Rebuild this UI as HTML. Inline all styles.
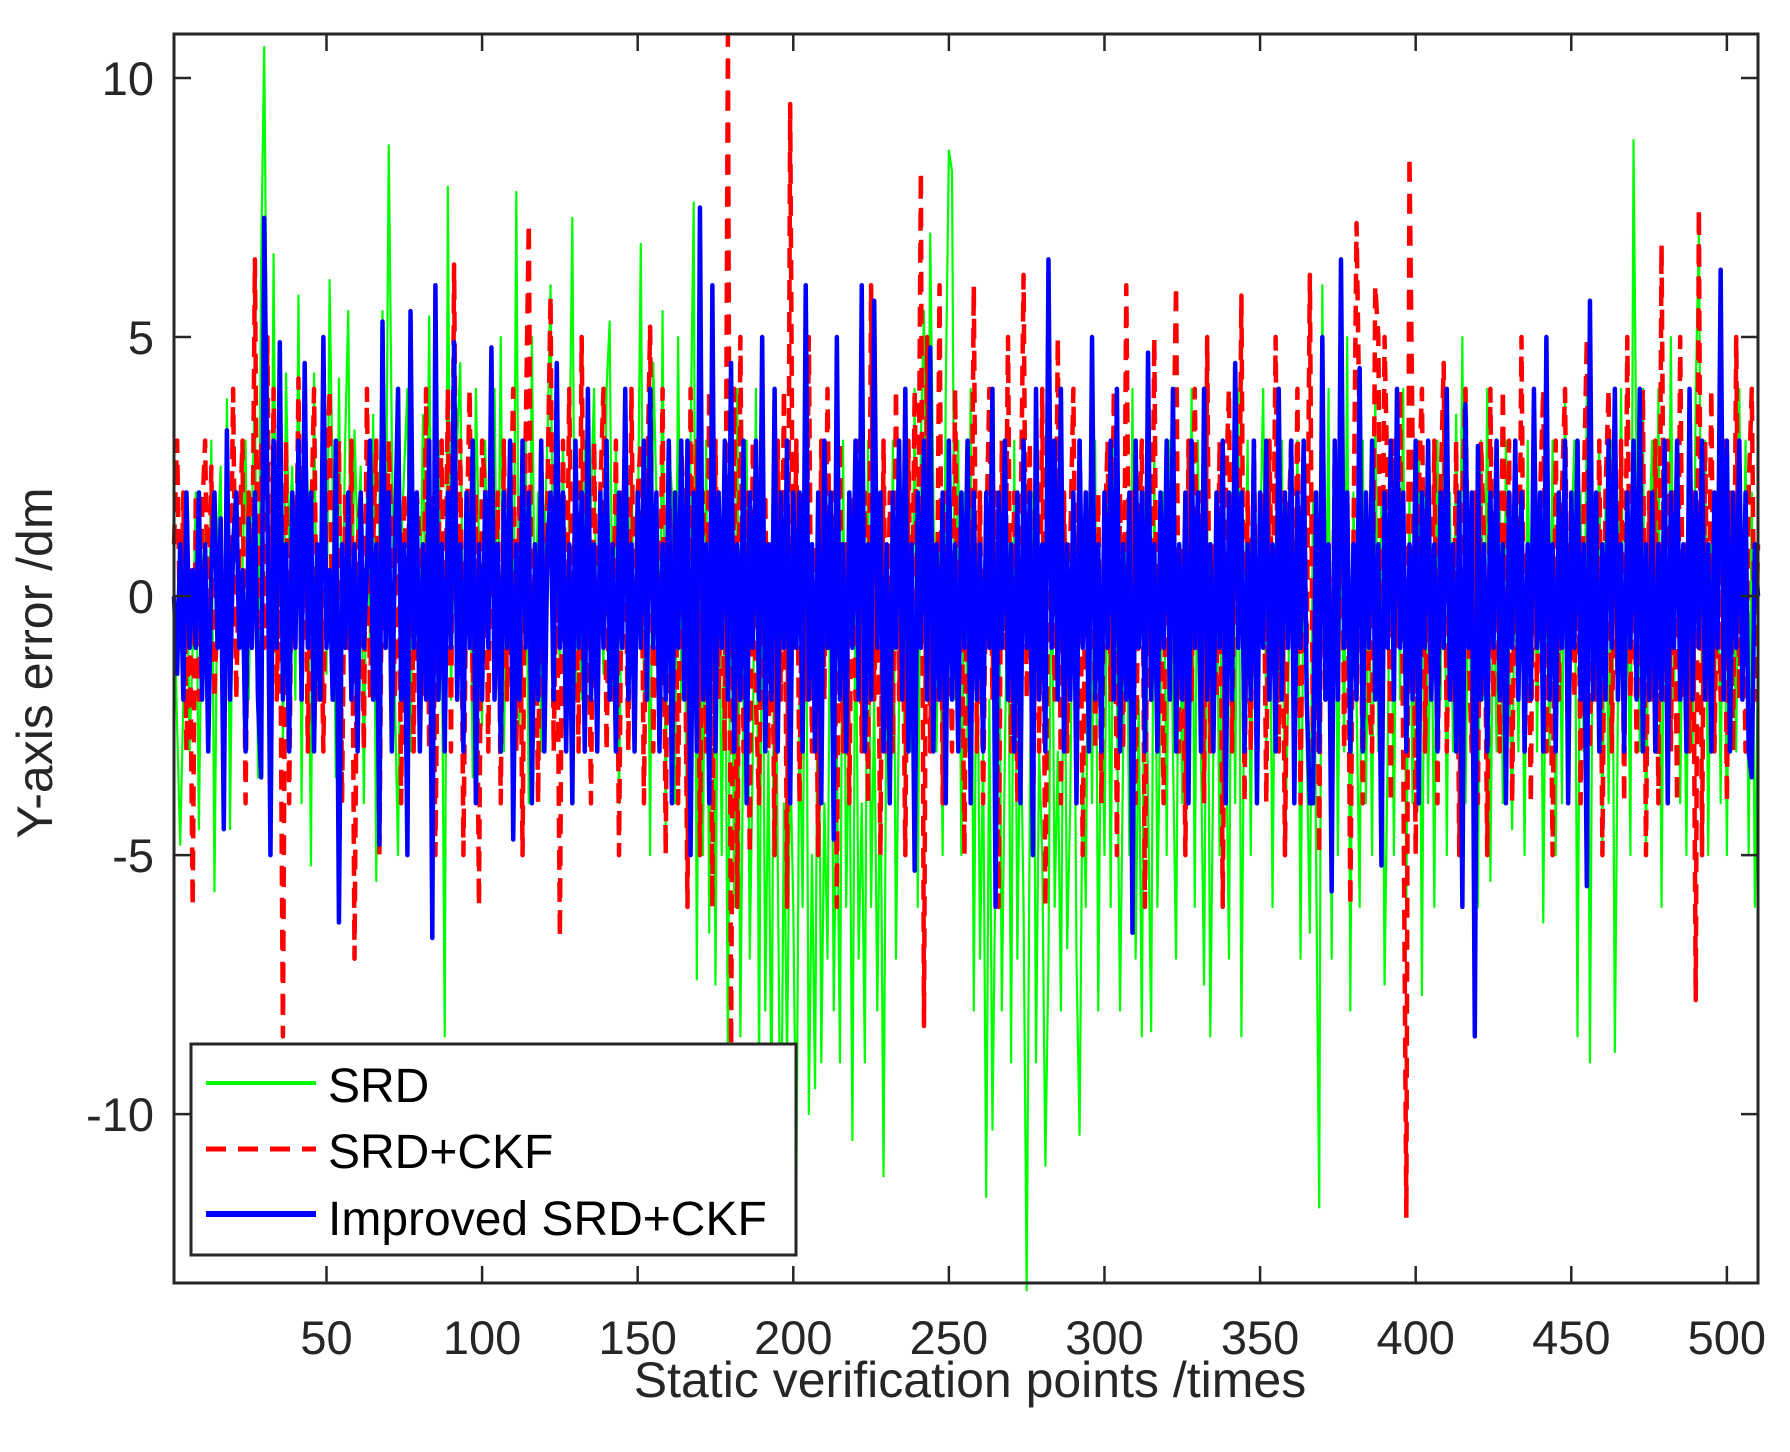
<!DOCTYPE html>
<html><head><meta charset="utf-8"><style>
html,body{margin:0;padding:0;background:#fff;}
svg{display:block;font-family:"Liberation Sans",Arial,sans-serif;}
</style></head><body>
<svg id="chart" width="1790" height="1452" viewBox="0 0 1790 1452" xmlns="http://www.w3.org/2000/svg">
<rect x="0" y="0" width="1790" height="1452" fill="#fff"/>
<g id="plot"></g>
<g id="axes"></g>
<g id="legend">
<rect x="191" y="1044" width="605" height="211" fill="#fff" stroke="#262626" stroke-width="3"/>
<line x1="206" y1="1083" x2="316" y2="1083" stroke="#00ff00" stroke-width="4"/>
<text x="328" y="1102" font-size="48" fill="#000">SRD</text>
<line x1="206" y1="1149" x2="316" y2="1149" stroke="#ff0000" stroke-width="5" stroke-dasharray="20,12"/>
<text x="328" y="1168" font-size="48" fill="#000">SRD+CKF</text>
<line x1="206" y1="1214" x2="316" y2="1214" stroke="#0000ff" stroke-width="6"/>
<text x="328" y="1235" font-size="48" fill="#000">Improved SRD+CKF</text>
</g>
<text x="970" y="1397" font-size="50" fill="#262626" text-anchor="middle">Static verification points /times</text>
<text transform="translate(52,663) rotate(-90)" font-size="50" fill="#262626" text-anchor="middle">Y-axis error /dm</text>
</svg>
<script>
const xTicks = [50,100,150,200,250,300,350,400,450,500];
const yTicks = [10,5,0,-5,-10];
const srd = [0,-2.5,-4.8,-2,1.5,-3,-1,2,-4.5,0.5, 1.2,-2,3,-5.7,1,2.5,-3,3.8,-4.5,1, 2,-1,0.5,3,-2,1.5,4,-3.5,6.5,10.6, 3,-2.5,6.6,-1.5,4.5,-3,4.3,1,2.5,-2, 5.8,-4,3.7,2,-5.2,4.3,-2,1,3.9,-1.5,
6.1,2,-3.5,4.2,-1,3,5.5,-2,3.2,1, 2.5,-4,2,-1,3.5,-5.5,1.8,5.5,0,8.7, 3,-2,-5,1,2.5,4,-3,1.2,2,-1, 3.5,-1.5,5.4,-2,1,3,0,-8.5,7.9,-2, 1,3,4.5,-2,0.5,2,-3.5,4,1,-2.5,
3,-1,2,4,-1.5,5,-3,1,2,-2, 7.8,-2.5,1,3,-4,5,-1,2,-3,1, 3,6,-2,1,-1.5,3,-3,2,7.3,-2, 1,-2,3,-1,2,4,-3,1,-1.5,4, 5.3,-2,3,-4,1,2,-1,3,-2.5,1,
6.8,-2,3,-5,4.5,2,-3,5.5,-4.5,3, 2,-4,5,-2,1,-6,3,7.6,-7.4,2, -5,3,-6.5,4,-7.5,2,-5,1,-9,3, -6,4,-8.5,-2,3,-7,-3,4,-9.2,2, -8,-3,-10,2,-5,-11.7,-4,-9,-3,-6,
-11.3,-2,-6,2,-10,-5,-9.5,1,-9,-4, -7,2,-8,-3,-9,3,-6,-2,-10.5,1, -7,-4,-9,3,-6,-2,-8,-3,-11.2,-1, -4,3,-7,-2,2,-5,3,-3,4,-6, 3,5.5,-2,7,2,-3,1,-5,4,8.6,
8.2,-2,3,-5,2,-3,4,-8,1,-7, -3,-11.6,-2,-10.3,-5,2,-8,-3,1,-9, 3,-7,-2,-6,-13.4,-4,2,-9,-3,-5, -11,-7,2,-6,-3,-8,1,-6.8,-4,2, -7,-10.4,-3,-6,2,-4,3,-8,-1,-5,
2,-6,3,-2,-8,-3,1,-5,4,-7, -2,-8.5,2,-4,-8.4,3,-6,-2,2,-5, 3,-3,-7,1,-4,2,-2,4,-6,3, -3,-7.5,2,-8.5,-3,1,-5,3,-2,-7, 2,-4,4,-8.5,-1,3,-5,2,-3,1,
4,-3,2,-6,1,-2,3,-5,-2,2, -4,3,-7,1,-3,-6.5,2,-5,-11.8,6, -2,4,-7,3,-5,2,-3,5,-8,2, -2,-6,3,-4,1,-5,4,-3,2,-7.5, -3,2,-5,3,-2,4,-6,2,-4,1,
3,-7.7,2,-4,1,-6,3,-2,4,-5, 2,-3,3.5,-2,5,-4,1,-3,2,-6, 3,-2,4,-5.5,1,-3,2,-4,3,-1, -4.5,2,-3,1,-5,3,-2,4,-3,2, -6.3,1,-3,3,-5,2,-4,4,-2,1,
3,-8.5,2,-3,4,-9,1,-2,3,-5, 2,-4,3,-8.8,-2,4,-3,1,-5,8.8, 2,-3,4,-5,1,3,-2,4,-6,2, -3,5,-2,3,-4,1,-5,2,-3,4, 7,-2,3,-5,1,-3,2,-4,3,-5, 2,1,-3,4,-2,3,-5,2,-6,-1];
const srdCkf = [1,3,-1,2,-3,0.5,-6,2,-2,1.5, 3,-1,2.5,-2,0,1,-3,2,-1,4, -2,1,3,-4,2,-1,6.5,-2,3,-1, 5,-3,4,-2,1,-8.5,3,-4,2,-1, 4.2,-2,3,-3,1,4,-2,1,-3,2,
4,-2,1,3,-4,2,-1,3,-7,1, 2,-3,4,-2,1,3,-5,2,-1,3, 1,-2,3,-4,2,-1,4,-3,2,1, -2,4,-3,2,-5,1,3,-2,4,-3, 6.4,-2,3,-5,1,4,-2,2,-6,3,
2,-3,4,-1,2,-4,3,-2,1,4, -3,2,-5,3,7.2,-2,1,-4,3,-2, 2,5.8,-3,1,-6.6,3,-2,4,-1,2, -3,5,-2,1,-4,3,-2,2,4,-3, 1,-2,3,-5,2,1,-3,4,-2,2,
3,-4,2,5.2,-3,1,-2,4,-5,3, -2,2,-4,3,1,-6,4,-2,3,-5, 2,-3,4,-6,3,-2,1,-3,10.8,-9, 4,-6,5,-3,2,-5,3,-2,-4,1, 2,-3,1,-5,3,-2,4,-6,9.5,-1,
3,-4,2,-2,5,-3,1,-5,3,-2, 4,-1,2,-6,3,-3,1,-4,2,-2, 3,-3,2,-4,6,-2,1,-5,3,-3, 2,-3,4,-2,1,-5,3,-2,4,-1, 8.2,-8.3,5,-3,1,-2,6,-4,2,1,
-3,4,-2,1,-5,3,-2,6,-3,2, -4,1,4,-2,2,-6,3,-1,5,-3, 2,-4,1,6.2,-2,3,-5,2,-3,4, -6,1,3,-2,5,-4,2,-3,1,4, -2,3,-5,2,-1,4,-3,2,-4,1,
3,-2,4,-5,2,-3,6,-1,2,-4, 1,3,-6,2,-2,5,-3,1,-4,3, -2,2,6,-3,1,-5,3,-2,4,-1, 2,-4,5,-3,1,-2,3,-6,2,4, -3,2,-1,5.8,-4,2,-3,3,-2,1,
2,-4,3,-1,5,-3,2,-5,1,3, -2,4,-4,2,-1,6.2,-3,2,-5,4, -2,1,-4,3,-2,5,-3,2,-6,1, 7.2,3,-4,2,-2,-3,6,5,-3,5, 2,-4,3,-1,4,-3,-12,8.5,3,-5,
2,4,-3,1,-2,3,-4,2,4.5,-3, 1,-2,3,-5,2,4,-1,-3,2,-4, 3,1,-5,4,-2,2,-3,4,-1,3, -4,2,-2,5,-3,1,-4,3,-2,2, 4,-3,1,-5,3,-2,2,4,-3,1,
-2,3,-4,2,5,-3,1,-2,3,-5, 2,4,-3,1,-2,3,-4,5,-2,2, -3,1,4,-5,2,-2,3,-4,6.8,-2, 3,-3,2,-4,5,-2,1,-3,2,-7.8, 7.5,-5,3,-2,4,-3,1,-2,3,-4, 2,-3,5,-2,1,-3,2,4,-2,1];
const improved = [0,-1.5,1,-2,2,-1,0.5,-1,2,-2, 1,-3,0.5,2,-1,1.5,-4.5,3.2,-2,1, 2,-1,0.5,-3,1.5,-1,2,-2,-3.5,7.3, 2,-5,3,-1,4.9,-2,1,-3,2,-1, 3,-2,4.5,-1,2,-3,1,-2,5,-1,
0.5,-2,3,-6.3,1,-1,2,-2,1,-3, 2,-1,0.5,3,-2,1,-4.8,5.3,-1,2, -3,1,4,-2,1,-5,5.5,-1,2,-3, 1,-2,3,-6.6,6,-2,1,-3,2,-1, 4.9,-2,1,-3,2,-1,3,-4,1,-2,
2,-1,4.8,-2,1,-3,2,-1,3,-4.7, 1,-2,3,-1,2,-4,1,-2,3,-3, 1,2,-2,4.5,-1,2,-3,1,-4,3, -1,2,-3,4,-2,1,-3,2,-1,3, -2,1,-3,2,-1,4,-2,1,-3,2,
-1,3,-2,4,-1,2,-3,1,-2,3, -4,2,-1,3,-2,3,-5,2,-3,7.5, -2,1,-4,6,-3,2,-1,3,-2,4.5, -3,1,-2,3,-4,2,-1,3,-2,5, -3,1,-2,4,-3,2,-1,3,-4,2,
-1,2,-3,6,-2,1,-3,2,-4,3, -1,2,-4.7,5,-2,1,-3,2,-1,3, -2,6,-3,1,-2,5.7,-1,2,-3,1, -4,2,-1,3,-2,4,-3,1,-5.3,2, -1,3,-2,4.8,-3,1,-2,2,-4,3,
-2,1,-3,2,-1,3,-4,2,-2,1, -3,2,-1,4,-6,2,-1,3,-2,1, -3,2,-4,3,-1,2,-5,4,-2,1, -3,6.5,-1,3,-2,4,-3,1,-2,2, -4,3,-1,2,-3,5,-2,1,-3,2,
-1,3,-2,4,-3,1,-2,2,-6.5,3, -1,2,-3,4.7,-2,1,-3,2,-1,3, -2,4,-3,1,-2,2,-4,3,-1,2, -3,4,-2,1,-3,2,-1,3,-4,2, -2,4.5,-1,2,-3,1,-2,3,-4,2,
-1,3,-2,1,-3,4,-2,2,-1,3, -4,2,-1,3,-2,-4,-4,2,-3,5, -2,1,-5.7,3,-2,6.5,-1,2,-3,1, -2,4.4,-3,2,-1,3,-2,1,-5.2,2, -1,3,-2,4,-1,2,-3,1,-2,3,
-4,2,-1,3,-2,1,-3,2,-1,4, -2,1,-3,2,-6,3.7,-1,2,-8.5,2.9, -2,1,-3,2,-1,3,-2,1,-4,2, -1,3,-2,2,-3,1,-2,4,-1,2, -3,5,-2,1,-3,2,-1,3,-4,2,
-1,3,-2,1,-5.6,5.7,-2,2,-3,1, -2,3,-1,4,-2,1,-3,2,-1,3, -2,4,-3,1,-2,2,-3,1,-2,3, -4,2,-1,3,-2,1,-3,4,-2,2, -1,3,-2,1,-3,2,-1,6.3,-2,3, -3,2,-1,3,-2,2,-3,-3.5,1,0];

const NS = "http://www.w3.org/2000/svg";
const L = 174, R = 1758, T = 34, B = 1283;
const xMin = 1, xMax = 510, yMin = -13.26, yMax = 10.85;
function xs(v){ return L + (v - xMin) / (xMax - xMin) * (R - L); }
function ys(v){ return B - (v - yMin) / (yMax - yMin) * (B - T); }

const plot = document.getElementById('plot');
function series(data, color, width, dash, name){
  const pts = data.map((v,i)=> xs(i+1).toFixed(2)+','+ys(v).toFixed(2)).join(' ');
  const pl = document.createElementNS(NS,'polyline');
  pl.setAttribute('points', pts);
  pl.setAttribute('fill','none');
  pl.setAttribute('stroke', color);
  pl.setAttribute('stroke-width', width);
  pl.setAttribute('stroke-linejoin','round');
  if (dash) pl.setAttribute('stroke-dasharray', dash);
  
  
  plot.appendChild(pl);
}
series(srd, '#00ff00', 2.2, null, 'series-srd');
series(srdCkf, '#ff0000', 4.5, '20,12', 'series-srd-ckf');
series(improved, '#0000ff', 4.5, null, 'series-improved-srd-ckf');

const axes = document.getElementById('axes');
const frame = document.createElementNS(NS,'rect');
frame.setAttribute('x', L); frame.setAttribute('y', T);
frame.setAttribute('width', R-L); frame.setAttribute('height', B-T);
frame.setAttribute('fill','none'); frame.setAttribute('stroke','#262626'); frame.setAttribute('stroke-width','3');


axes.appendChild(frame);
function line(x1,y1,x2,y2){
  const l = document.createElementNS(NS,'line');
  l.setAttribute('x1',x1); l.setAttribute('y1',y1); l.setAttribute('x2',x2); l.setAttribute('y2',y2);
  l.setAttribute('stroke','#262626'); l.setAttribute('stroke-width','2.5');
  
  
  axes.appendChild(l);
}
xTicks.forEach(t=>{
  const x = xs(t);
  line(x,B,x,B-17); line(x,T,x,T+17);
  const tx = document.createElementNS(NS,'text');
  tx.setAttribute('x', x); tx.setAttribute('y', 1354);
  tx.setAttribute('font-size','47'); tx.setAttribute('fill','#262626'); tx.setAttribute('text-anchor','middle');
  tx.textContent = t;
  
  
  axes.appendChild(tx);
});
yTicks.forEach(t=>{
  const y = ys(t);
  line(L,y,L+17,y); line(R,y,R-17,y);
  const tx = document.createElementNS(NS,'text');
  tx.setAttribute('x', 154); tx.setAttribute('y', y+17);
  tx.setAttribute('font-size','47'); tx.setAttribute('fill','#262626'); tx.setAttribute('text-anchor','end');
  tx.textContent = t;
  
  
  axes.appendChild(tx);
});
</script>
</body></html>
